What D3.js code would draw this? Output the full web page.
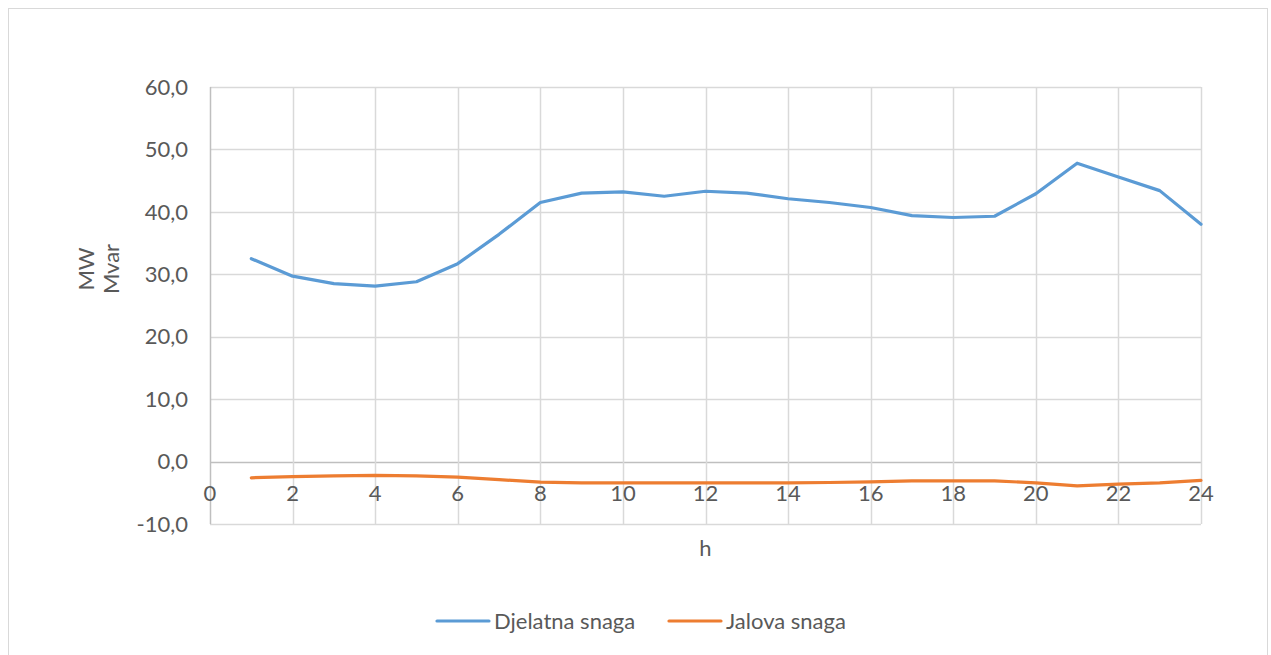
<!DOCTYPE html>
<html><head><meta charset="utf-8">
<script src="https://cdn.jsdelivr.net/npm/d3@7"></script>
<style>body{margin:0;background:#fff;} text{font-family:Lato,"Open Sans",sans-serif;fill:#595959;}</style>
</head><body><svg id="c" width="1271" height="655"></svg>
<script>
const hours = [1,2,3,4,5,6,7,8,9,10,11,12,13,14,15,16,17,18,19,20,21,22,23,24];
const djelatna = [32.5,29.7,28.5,28.1,28.8,31.7,36.4,41.5,43.0,43.2,42.5,43.3,43.0,42.1,41.5,40.7,39.4,39.1,39.3,42.9,47.8,45.6,43.4,38.0];
const jalova = [-2.6,-2.4,-2.3,-2.2,-2.3,-2.5,-2.9,-3.3,-3.4,-3.4,-3.4,-3.4,-3.4,-3.4,-3.35,-3.25,-3.1,-3.1,-3.1,-3.4,-3.9,-3.6,-3.4,-3.0];
const xTicks = [0,2,4,6,8,10,12,14,16,18,20,22,24];
const yTicks = [-10,0,10,20,30,40,50,60];
const seriesNames = ["Djelatna snaga","Jalova snaga"];
const colors = ["#5b9bd5","#ed7d31"];

const svg = d3.select("#c");
svg.append("rect").attr("x",8.5).attr("y",8.5).attr("width",1259).attr("height",660).attr("fill","#fff").attr("stroke","#d9d9d9");

const x = d3.scaleLinear().domain([0,24]).range([210,1201]);
const y = d3.scaleLinear().domain([-10,60]).range([524,87]);

// gridlines
svg.append("g").selectAll("line").data(yTicks).join("line")
  .attr("x1",x(0)).attr("x2",x(24)).attr("y1",d=>Math.round(y(d))+0.5).attr("y2",d=>Math.round(y(d))+0.5)
  .attr("stroke",d=>d===0?"#bfbfbf":"#d9d9d9").attr("stroke-width",1.5);
svg.append("g").selectAll("line").data(xTicks).join("line")
  .attr("x1",d=>Math.round(x(d))+0.5).attr("x2",d=>Math.round(x(d))+0.5).attr("y1",y(60)).attr("y2",y(-10))
  .attr("stroke",d=>d===0?"#bfbfbf":"#d9d9d9").attr("stroke-width",1.5);

const fmt = d => d3.format(".1f")(d).replace(".",",").replace("\u2212","-");
// y tick labels
svg.append("g").selectAll("text").data(yTicks).join("text")
  .attr("x",188).attr("y",d=>y(d)).attr("dy","0.35em").attr("text-anchor","end")
  .style("font-size","22px").text(fmt);
// x tick labels
svg.append("g").selectAll("text").data(xTicks).join("text")
  .attr("x",d=>x(d)).attr("y",y(0)+39).attr("text-anchor","middle")
  .style("font-size","22px").text(d=>d);

// axis titles
svg.append("text").attr("x",x(12)).attr("y",556).attr("text-anchor","middle").style("font-size","22px").text("h");
const yt = svg.append("text").attr("transform","translate(94,269) rotate(-90)").attr("text-anchor","middle").style("font-size","22px");
yt.append("tspan").attr("x",0).attr("dy",0).text("MW");
yt.append("tspan").attr("x",0).attr("dy","1.15em").text("Mvar");

// lines
const line = d3.line().x((d,i)=>x(hours[i])).y(d=>y(d));
[djelatna,jalova].forEach((s,i)=>{
  svg.append("path").datum(s).attr("d",line).attr("fill","none").attr("stroke",colors[i])
    .attr("stroke-width",3.2).attr("stroke-linejoin","round").attr("stroke-linecap","round");
});

// legend
const lx = [437,669];
seriesNames.forEach((n,i)=>{
  svg.append("line").attr("x1",lx[i]).attr("x2",lx[i]+52).attr("y1",621).attr("y2",621)
    .attr("stroke",colors[i]).attr("stroke-width",3.2).attr("stroke-linecap","round");
  svg.append("text").attr("x",lx[i]+57).attr("y",621).attr("dy","0.35em").style("font-size","22px").text(n);
});
</script></body></html>
